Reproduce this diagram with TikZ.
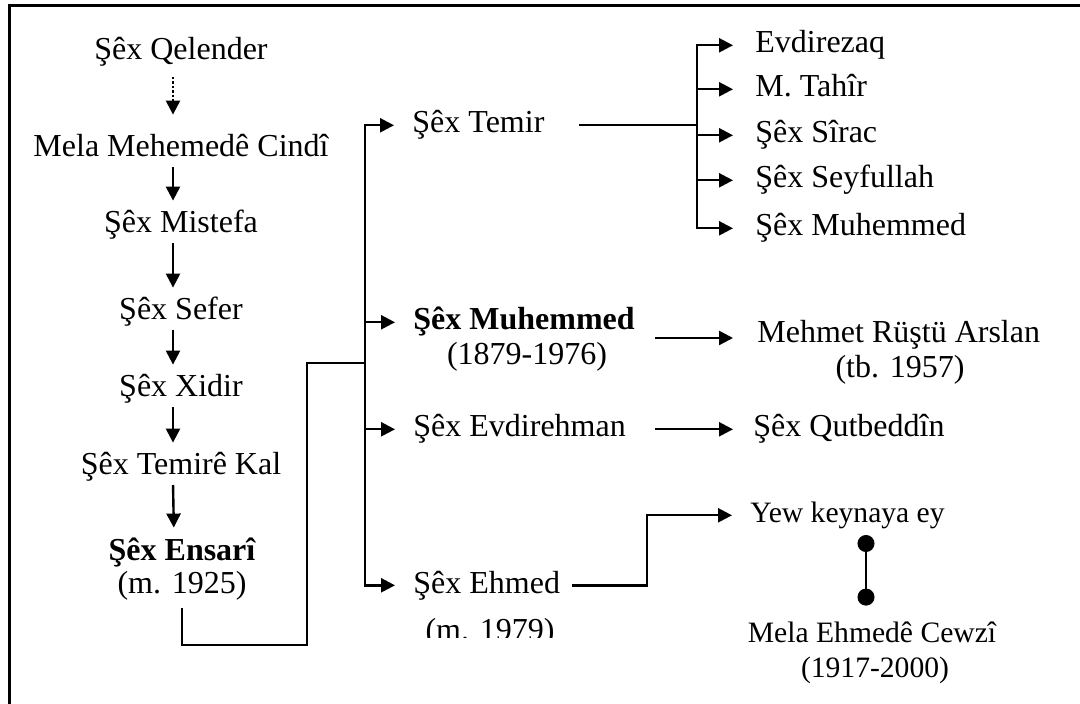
\documentclass[tikz,border=0pt]{standalone}
\usepackage{fontspec}
\setmainfont{Liberation Serif}
\usepackage{tikz}
\usetikzlibrary{calc}
\usetikzlibrary{arrows.meta}

\tikzset{
	person/.style = {inner sep = 0pt, text height = 11.5pt, text depth = 3.8pt, font = \fontsize{16}{19}\selectfont},
	minor/.style = {person, font = \fontsize{14.8}{17}\selectfont},
	link/.style = {line width = 1.2pt},
	arr/.style = {link, -{Triangle[length = 7pt, width = 7pt]}, shorten > = 9pt},
	descent/.style = {link, -{Triangle[length = 7pt, width = 7pt]}, shorten < = 1pt, shorten > = 4.5pt},
}

\begin{document}
\begin{tikzpicture}[x = 0.5pt, y = -0.5pt]
	\useasboundingbox (0, 0) rectangle (1080, 704);
	\draw[line width = 1.5pt] (9, 704) |- (1080, 6);

	\node[person, anchor = base] (qelender) at (181, 60) {Şêx Qelender};
	\node[person, anchor = base] (cindi) at (181, 157) {Mela Mehemedê Cindî};
	\node[person, anchor = base] (mistefa) at (181, 233) {Şêx Mistefa};
	\node[person, anchor = base] (sefer) at (181, 320) {Şêx Sefer};
	\node[person, anchor = base] (xidir) at (181, 397) {Şêx Xidir};
	\node[person, anchor = base] (temirekal) at (181, 475) {Şêx Temirê Kal};
	\node[person, anchor = base] (ensari) at (182, 560) {\bfseries Şêx Ensarî};
	\node[person, anchor = base] (ensariy) at (182, 593) {(m. 1925)};

	\draw[descent, densely dotted, shorten < = 4.5pt, shorten > = 9.5pt] ([xshift = -4pt]qelender.south) -- ([xshift = -4pt]cindi.north);
	\foreach \a/\b in {cindi/mistefa, mistefa/sefer, sefer/xidir, xidir/temirekal, temirekal/ensari}
		\draw[descent] ([xshift = -4pt]\a.south) -- ([xshift = -4pt]\b.north);

	\node[person, anchor = base west] (temir) at (412, 133) {Şêx Temir};
	\node[person, anchor = base west] (muhemmed) at (413, 330) {\bfseries Şêx Muhemmed};
	\node[person, anchor = base] (muhemmedy) at (527, 365) {(1879-1976)};
	\node[person, anchor = base west] (evdirehman) at (413, 437) {Şêx Evdirehman};
	\node[person, anchor = base west] (ehmed) at (413, 593) {Şêx Ehmed};
	\begin{scope}
		\clip (400, 600) rectangle (600, 637);
		\node[person, anchor = base] (ehmedy) at (490, 640) {(m. 1979)};
	\end{scope}

	\coordinate (trunk) at (365, 363);
	\coordinate (elbow) at (307, 645);
	\draw[link] ([yshift = -3.7pt]ensariy.south) |- (elbow) |- (trunk);
	\draw[arr] (trunk) |- (temir.west);
	\draw[arr] (trunk) |- (ehmed.west);
	\draw[arr] (trunk |- muhemmed.west) -- (muhemmed.west);
	\draw[arr] (trunk |- evdirehman.west) -- (evdirehman.west);

	\node[person, anchor = base west] (evdirezaq) at (755, 53) {Evdirezaq};
	\node[person, anchor = base west] (tahir) at (755, 97) {M. Tahîr};
	\node[person, anchor = base west] (sirac) at (755, 143) {Şêx Sîrac};
	\node[person, anchor = base west] (seyfullah) at (755, 188) {Şêx Seyfullah};
	\node[person, anchor = base west] (muhemmedr) at (755, 236) {Şêx Muhemmed};

	\coordinate (fork) at (697, 125);
	\draw[link, shorten < = 17pt] (temir.east) -- (temir.east -| fork);
	\foreach \n in {evdirezaq, tahir, sirac, seyfullah, muhemmedr}
		\draw[arr, shorten > = 11pt] (fork) |- (\n.west);

	\node[person, anchor = base west] (mehmet) at (757, 343) {Mehmet Rüştü Arslan};
	\node[person, anchor = base] (mehmety) at (900, 378) {(tb. 1957)};
	\node[person, anchor = base west] (qutbeddin) at (753, 437) {Şêx Qutbeddîn};

	\coordinate (split) at (655, 0);
	\draw[arr, shorten > = 12pt] (muhemmed.south -| split) -- (muhemmed.south -| mehmet.west);
	\draw[arr, shorten > = 10pt] (evdirehman.east -| split) -- (qutbeddin.west);

	\node[minor, anchor = base west] (yew) at (750, 523) {Yew keynaya ey};
	\node[minor, anchor = base] (cewzi) at (872, 642) {Mela Ehmedê Cewzî};
	\node[minor, anchor = base] (cewziy) at (875, 677) {(1917-2000)};

	\coordinate (jog) at (647, 516);
	\draw[arr, shorten < = 6pt] (ehmed.east) -| (jog |- yew.west) -- (yew.west);
	\coordinate (dottop) at ($(yew.south -| cewzi.north) + (-6, 4)$);
	\coordinate (dotbottom) at ($(cewzi.north) + (-6, -13)$);
	\draw[link, {Circle[length = 8.5pt]}-{Circle[length = 8.5pt]}] (dottop) -- (dotbottom);
\end{tikzpicture}
\end{document}
